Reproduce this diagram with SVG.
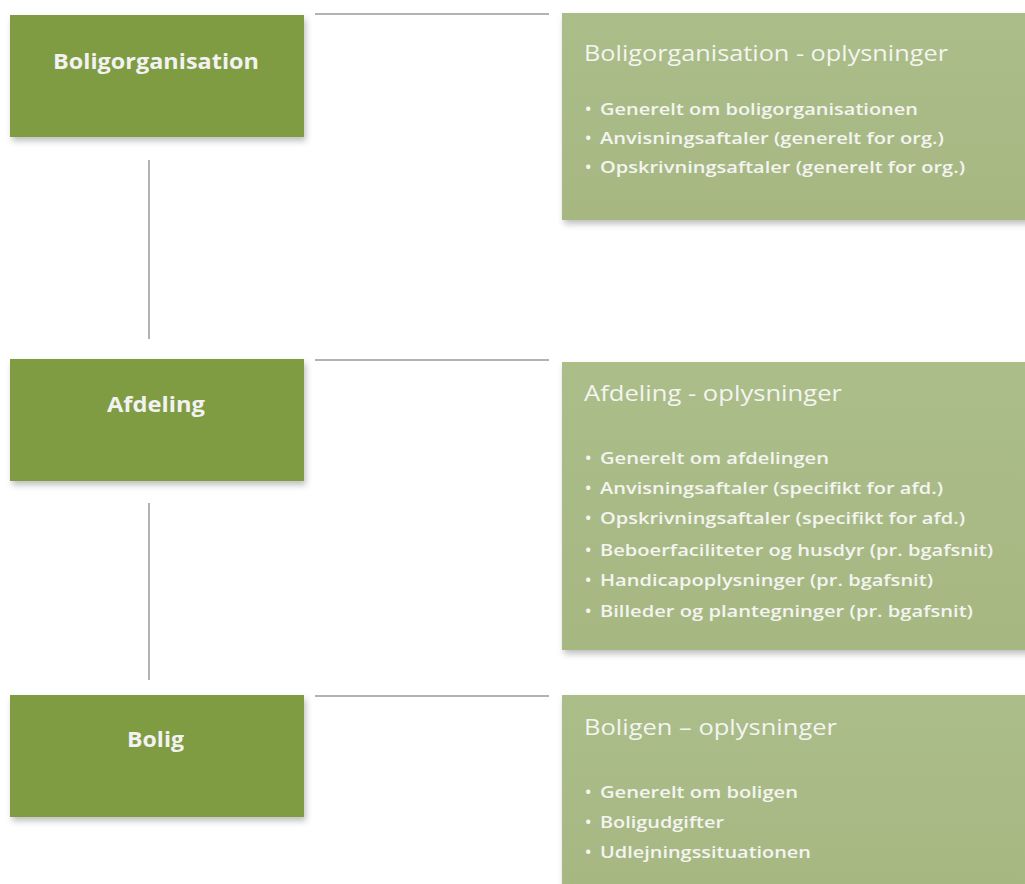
<svg xmlns="http://www.w3.org/2000/svg" width="1025" height="884" viewBox="0 0 1025 884">
<style>
.lbox{fill:#7f9c42;filter:url(#sh)}
.rbox{fill:url(#rg);filter:url(#sh)}
.lt{font-family:"Open Sans","Liberation Sans",sans-serif;font-weight:bold;font-size:21px;fill:#f2f2f2;text-anchor:start}
.tt{font-family:"Open Sans","Liberation Sans",sans-serif;font-size:22px;font-weight:500;fill:#f4f4f0}
.bt{font-family:"Open Sans","Liberation Sans",sans-serif;font-size:17px;font-weight:600;fill:#f4f4f0}
.ln{stroke:#9a9a9a;stroke-width:1.5;fill:none}
</style>
<defs>
<filter id="sh" x="-5%" y="-5%" width="115%" height="125%">
<feDropShadow dx="2" dy="4" stdDeviation="3" flood-color="#000" flood-opacity="0.25"/>
</filter>
<linearGradient id="rg" x1="0" y1="0" x2="0" y2="1">
<stop offset="0" stop-color="#abbd89"/>
<stop offset="1" stop-color="#a6b782"/>
</linearGradient>
</defs>
<g id="connectors">
<line class="ln" x1="315" y1="14" x2="549" y2="14"/>
<line class="ln" x1="315" y1="360" x2="549" y2="360"/>
<line class="ln" x1="315" y1="696" x2="549" y2="696"/>
<line class="ln" x1="149" y1="160" x2="149" y2="339"/>
<line class="ln" x1="149" y1="503" x2="149" y2="680"/>
</g>
<g id="node-boligorganisation">
<rect class="lbox" x="10" y="15" width="294" height="122"/>
<text class="lt" x="53" y="69" textLength="206" lengthAdjust="spacingAndGlyphs">Boligorganisation</text>
</g>
<g id="node-afdeling">
<rect class="lbox" x="10" y="359" width="294" height="122"/>
<text class="lt" x="107" y="412" textLength="98" lengthAdjust="spacingAndGlyphs">Afdeling</text>
</g>
<g id="node-bolig">
<rect class="lbox" x="10" y="695" width="294" height="122"/>
<text class="lt" x="127" y="747" textLength="57" lengthAdjust="spacingAndGlyphs">Bolig</text>
</g>
<g id="info-boligorganisation">
<rect class="rbox" x="562" y="13" width="480" height="207"/>
<text class="tt" x="584" y="61" textLength="364" lengthAdjust="spacingAndGlyphs">Boligorganisation - oplysninger</text>
<text class="bt" x="585" y="115">•</text>
<text class="bt" x="600" y="115" textLength="318" lengthAdjust="spacingAndGlyphs">Generelt om boligorganisationen</text>
<text class="bt" x="585" y="144">•</text>
<text class="bt" x="600" y="144" textLength="344" lengthAdjust="spacingAndGlyphs">Anvisningsaftaler (generelt for org.)</text>
<text class="bt" x="585" y="173">•</text>
<text class="bt" x="600" y="173" textLength="365" lengthAdjust="spacingAndGlyphs">Opskrivningsaftaler (generelt for org.)</text>
</g>
<g id="info-afdeling">
<rect class="rbox" x="562" y="362" width="480" height="288"/>
<text class="tt" x="584" y="401" textLength="258" lengthAdjust="spacingAndGlyphs">Afdeling - oplysninger</text>
<text class="bt" x="585" y="464">•</text>
<text class="bt" x="600" y="464" textLength="229" lengthAdjust="spacingAndGlyphs">Generelt om afdelingen</text>
<text class="bt" x="585" y="494">•</text>
<text class="bt" x="600" y="494" textLength="343" lengthAdjust="spacingAndGlyphs">Anvisningsaftaler (specifikt for afd.)</text>
<text class="bt" x="585" y="524">•</text>
<text class="bt" x="600" y="524" textLength="365" lengthAdjust="spacingAndGlyphs">Opskrivningsaftaler (specifikt for afd.)</text>
<text class="bt" x="585" y="556">•</text>
<text class="bt" x="600" y="556" textLength="393" lengthAdjust="spacingAndGlyphs">Beboerfaciliteter og husdyr (pr. bgafsnit)</text>
<text class="bt" x="585" y="586">•</text>
<text class="bt" x="600" y="586" textLength="333" lengthAdjust="spacingAndGlyphs">Handicapoplysninger (pr. bgafsnit)</text>
<text class="bt" x="585" y="617">•</text>
<text class="bt" x="600" y="617" textLength="373" lengthAdjust="spacingAndGlyphs">Billeder og plantegninger (pr. bgafsnit)</text>
</g>
<g id="info-bolig">
<rect class="rbox" x="562" y="695" width="480" height="200"/>
<text class="tt" x="584" y="735" textLength="253" lengthAdjust="spacingAndGlyphs">Boligen – oplysninger</text>
<text class="bt" x="585" y="798">•</text>
<text class="bt" x="600" y="798" textLength="198" lengthAdjust="spacingAndGlyphs">Generelt om boligen</text>
<text class="bt" x="585" y="828">•</text>
<text class="bt" x="600" y="828" textLength="124" lengthAdjust="spacingAndGlyphs">Boligudgifter</text>
<text class="bt" x="585" y="858">•</text>
<text class="bt" x="600" y="858" textLength="211" lengthAdjust="spacingAndGlyphs">Udlejningssituationen</text>
</g>
</svg>
